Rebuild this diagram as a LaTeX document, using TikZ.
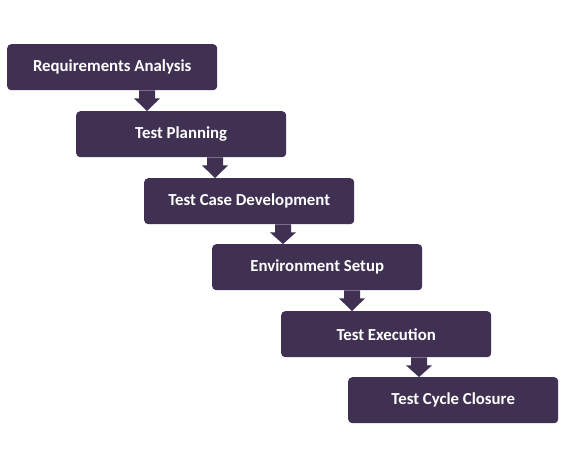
\documentclass[tikz,border=0pt]{standalone}
\usepackage{fontspec}
\setmainfont{Carlito}
\begin{document}
\begin{tikzpicture}[x=1pt,y=-1pt]
\definecolor{boxpurple}{HTML}{403152}
\tikzset{
  stagebox/.style={fill=boxpurple, draw=none, rounded corners=4pt,
    minimum width=210pt, minimum height=46pt, inner sep=0pt,
    text=white, font=\bfseries\fontsize{16.8}{19}\selectfont, anchor=north west},
  downarrow/.style={fill=boxpurple, draw=none}
}
\useasboundingbox[fill=white] (0,0) rectangle (565,468);
\node[stagebox] (b1) at (7,44)  {Requirements Analysis};
\node[stagebox] (b2) at (76,111) {Test Planning};
\node[stagebox] (b3) at (144,178) {Test Case Development};
\node[stagebox] (b4) at (212,244) {Environment Setup};
\node[stagebox] (b5) at (281,311) {Test Execution};
\node[stagebox] (b6) at (348,377) {Test Cycle Closure};
\foreach \u/\l in {b1/b2,b2/b3,b3/b4,b4/b5,b5/b6}{
  \path (\u.south west -| \l.north west) ++(71,0) coordinate (top-\u);
  \path (\l.north west) ++(71,0) coordinate (tip-\u);
  \fill[downarrow] ([xshift=-8pt]top-\u) -- ([xshift=8pt]top-\u)
    -- ([xshift=8pt,yshift=-8pt]top-\u) -- ([xshift=13pt,yshift=-8pt]top-\u)
    -- (tip-\u) -- ([xshift=-13pt,yshift=-8pt]top-\u)
    -- ([xshift=-8pt,yshift=-8pt]top-\u) -- cycle;
}
\end{tikzpicture}
\end{document}
